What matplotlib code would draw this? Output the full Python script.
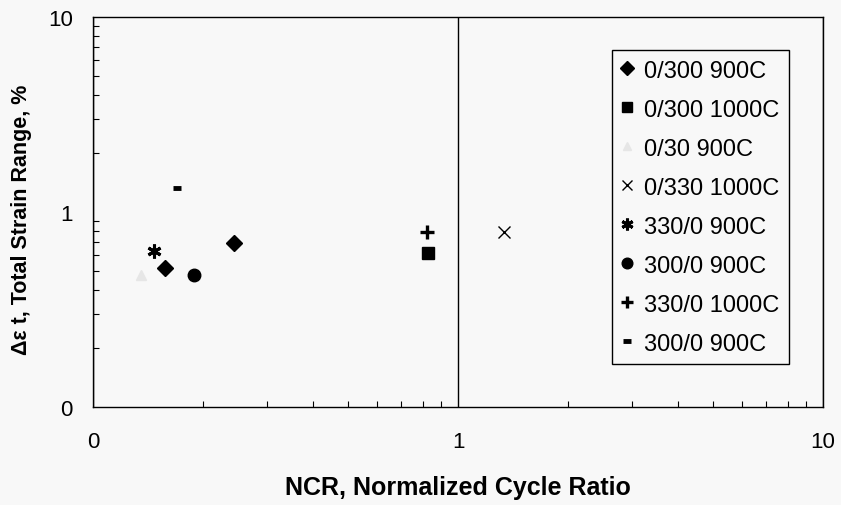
import numpy as np
import matplotlib.pyplot as plt
from matplotlib.ticker import LogLocator, NullFormatter

plt.rcParams['font.family'] = ['Liberation Sans', 'DejaVu Sans']

# series: (NCR, strain range %)
labels = ['0/300 900C', '0/300 1000C', '0/30 900C', '0/330 1000C',
          '330/0 900C', '300/0 900C', '330/0 1000C', '300/0 900C']
ncr = [[0.157, 0.244], [0.826], [0.135], [1.339], [0.147], [0.189], [0.821], [0.170]]
strain = [[0.514, 0.696], [0.614], [0.475], [0.785], [0.632], [0.475], [0.785], [1.332]]

tick_vals = [0.1, 1, 10]
tick_labels = ['0', '1', '10']

# marker styles, excel-ish
styles = [
    dict(marker='D', ms=8, color='black'),
    dict(marker='s', ms=8, color='black'),
    dict(marker='^', ms=7, color='#e6e6e6'),
    dict(marker='x', ms=8, color='black', mew=1),
    dict(marker=(6, 2, 0), ms=10, color='black', mew=2.2),
    dict(marker='o', ms=9, color='black'),
    dict(marker='+', ms=9.5, color='black', mew=2.4),
    dict(marker='_', ms=6, color='black', mew=3.5),
]

bg = '#f8f8f8'
fig = plt.figure(figsize=(8.41, 5.06), dpi=100, facecolor=bg)
ax = fig.add_axes([0.1106, 0.1937, 0.868, 0.7707], facecolor=bg)

for i in range(len(labels)):
    ax.plot(ncr[i], strain[i], ls='none', label=labels[i], **styles[i])

ax.set_xscale('log')
ax.set_yscale('log')
ax.set_xlim(0.1, 10)
ax.set_ylim(0.1, 10)

ax.set_xticks(tick_vals, tick_labels)
ax.set_yticks(tick_vals, tick_labels)
ax.xaxis.set_minor_locator(LogLocator(base=10, subs=np.arange(2, 10)))
ax.yaxis.set_minor_locator(LogLocator(base=10, subs=np.arange(2, 10)))
ax.xaxis.set_minor_formatter(NullFormatter())
ax.yaxis.set_minor_formatter(NullFormatter())
ax.tick_params(which='major', length=0, labelsize=16)
ax.tick_params(axis='x', which='major', pad=17)
ax.tick_params(axis='y', which='major', pad=14.5)
ax.tick_params(which='minor', direction='in', length=4, width=0.8)

ax.grid(axis='x', which='major', color='black', lw=1)
for s in ax.spines.values():
    s.set_linewidth(1)

ax.set_xlabel('NCR, Normalized Cycle Ratio', fontsize=18, fontweight='bold')
ax.xaxis.set_label_coords(0.5, -0.174)
ax.xaxis.label.set_va('top')
ax.set_ylabel('\u0394\u03b5 t, Total Strain Range, %', fontsize=15.5,
              fontweight='bold')
ax.yaxis.set_label_coords(-0.084, 0.482)

leg = ax.legend(loc='upper right', bbox_to_anchor=(0.9534, 0.915), fontsize=17,
                frameon=True, fancybox=False, edgecolor='black',
                facecolor=bg, framealpha=1, handlelength=0.45,
                handletextpad=0.5, labelspacing=0.72, borderpad=0.4,
                markerscale=0.85, borderaxespad=0)
leg.get_frame().set_linewidth(1)

fig.savefig('out.png', dpi=100, facecolor=bg)
